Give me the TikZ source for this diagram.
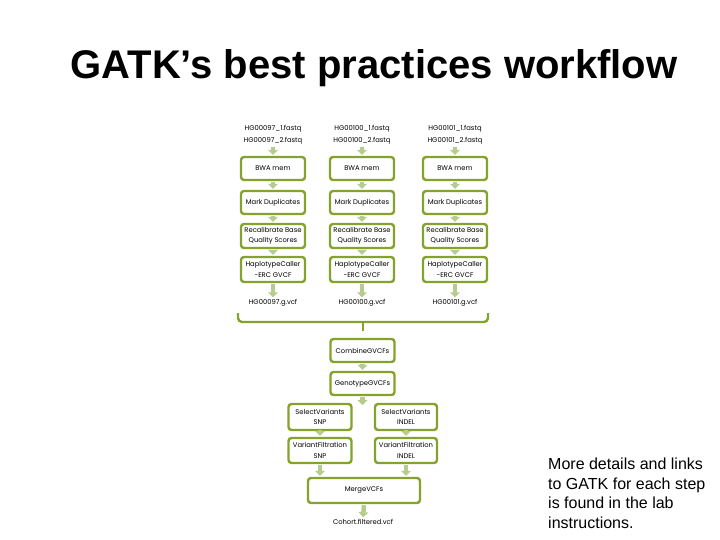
\documentclass[tikz,border=0pt]{standalone}
\usepackage{fontspec}
\setmainfont{Liberation Sans}
\newfontfamily\boxfont{Poppins}
\usetikzlibrary{arrows.meta}
\definecolor{boxgreen}{RGB}{133,162,45}
\definecolor{arrgreen}{RGB}{182,204,142}
\begin{document}
\begin{tikzpicture}[x=1pt,y=-1pt,
 stepbox/.style={draw=boxgreen, line width=2.4pt, rounded corners=3pt, fill=white, minimum width=64pt, minimum height=23pt, inner sep=1pt, align=center, font=\boxfont\fontsize{6.8}{10.5}\selectfont},
 lbl/.style={align=center, font=\boxfont\fontsize{6.8}{12}\selectfont, inner sep=1pt},
 blk/.style={draw=arrgreen, line width=4.5pt, -{Triangle[width=10pt,length=5pt]}, shorten <=1pt, shorten >=1pt},
 bracket/.style={draw=boxgreen, line width=2.4pt, rounded corners=4pt}]
\useasboundingbox (0,0) rectangle (720,540);
\node (title) at (374,68) {\fontsize{40}{40}\selectfont\bfseries GATK’s best practices workflow};
% columns
\foreach \c/\x/\s in {1/273/HG00097,2/362/HG00100,3/455/HG00101}{
  \node[lbl] (fq\c) at (\x,135) {\s\_1.fastq\\\s\_2.fastq};
  \node[stepbox] (bwa\c) at (\x,168.5) {BWA mem};
  \node[stepbox] (md\c) at (\x,202.5) {Mark Duplicates};
  \node[stepbox, minimum height=24pt] (rb\c) at (\x,236) {Recalibrate Base\\Quality Scores};
  \node[stepbox, minimum height=25pt] (hc\c) at (\x,269.5) {HaplotypeCaller\\-ERC GVCF};
  \node[lbl] (gv\c) at (\x,303) {\s.g.vcf};
  \draw[blk] (fq\c.south) -- (bwa\c.north);
  \draw[blk] (bwa\c.south) -- (md\c.north);
  \draw[blk] (md\c.south) -- (rb\c.north);
  \draw[blk] (rb\c.south) -- (hc\c.north);
  \draw[blk] (hc\c.south) -- (gv\c.north);
}
% bracket
\coordinate (bl) at (238,313);
\coordinate (br) at (488,313);
\coordinate (bm) at (363,322);
\coordinate (btip) at (363,331);
\draw[bracket] (bl) -- (bl |- bm) -- (br |- bm) -- (br);
\draw[bracket] (bm) -- (btip);
% lower part
\node[stepbox] (comb) at (362.5,350.5) {CombineGVCFs};
\node[stepbox] (geno) at (362.5,383.5) {GenotypeGVCFs};
\node[stepbox, minimum width=63pt, minimum height=26pt] (svs) at (320,417) {SelectVariants\\SNP};
\node[stepbox, minimum width=62pt, minimum height=26pt] (svi) at (406,417) {SelectVariants\\INDEL};
\node[stepbox, minimum width=63pt, minimum height=25pt] (vfs) at (320,450.5) {VariantFiltration\\SNP};
\node[stepbox, minimum width=62pt, minimum height=25pt] (vfi) at (406,450.5) {VariantFiltration\\INDEL};
\node[stepbox, minimum width=112pt, minimum height=25pt] (merge) at (364,490.5) {MergeVCFs};
\node[lbl] (cohort) at (363,522) {Cohort.filtered.vcf};
\coordinate (gend) at (362.5,406);
\draw[blk] (comb.south) -- (geno.north);
\draw[blk] (geno.south) -- (gend);
\draw[blk] (svs.south) -- (vfs.north);
\draw[blk] (svi.south) -- (vfi.north);
\draw[blk] (vfs.south) -- (vfs.south |- merge.north);
\draw[blk] (vfi.south) -- (vfi.south |- merge.north);
\draw[blk] (merge.south) -- (cohort.north);
% note
\node[anchor=north west, align=left, inner sep=0pt, font=\fontsize{16}{19.5}\selectfont] (note) at (548,458) {More details and links\\to GATK for each step\\is found in the lab\\instructions.};
\end{tikzpicture}
\end{document}
